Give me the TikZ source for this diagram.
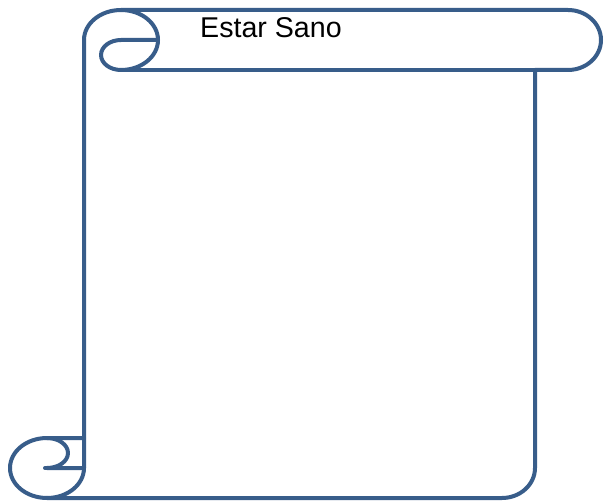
\documentclass[tikz,border=0pt]{standalone}
\usepackage{xcolor}
\usepackage{fontspec}
\setmainfont{Liberation Sans}
\usepackage{tikz}
\definecolor{scrollblue}{RGB}{56,93,138}

\begin{document}
\begin{tikzpicture}[
  x=1pt, y=-1pt,
  scroll/.style={draw=scrollblue, line width=4pt, line join=round, line cap=round},
  title/.style={anchor=base west, inner sep=0pt, font=\fontsize{28.6}{32}\selectfont}
]
\useasboundingbox[fill=white] (0,0) rectangle (605,502);
% outline of the sheet
\draw[scroll, fill=white] (84,438) -- (84,40) arc[start angle=180, delta angle=90, x radius=37, y radius=30]
  -- (568,10) arc[start angle=270, delta angle=180, x radius=33, y radius=30]
  -- (535,70) -- (535,468) arc[start angle=0, delta angle=90, x radius=33, y radius=30]
  -- (47,498) arc[start angle=90, delta angle=180, x radius=37, y radius=30] -- cycle;
% top roll
\draw[scroll] (121,10) arc[start angle=270, delta angle=180, x radius=37, y radius=30]
  arc[start angle=90, delta angle=180, x radius=20, y radius=15] -- (158,40);
\draw[scroll] (535,70) -- (121,70);
% bottom roll
\draw[scroll] (47,438) arc[start angle=270, delta angle=180, x radius=21, y radius=15] -- (84,468);
\draw[scroll] (45,468) -- (84,468);
\draw[scroll] (47,498) arc[start angle=90, delta angle=-90, x radius=37, y radius=30] -- (84,438);

\node[title] (heading) at (200,38) {Estar Sano};
\end{tikzpicture}
\end{document}
